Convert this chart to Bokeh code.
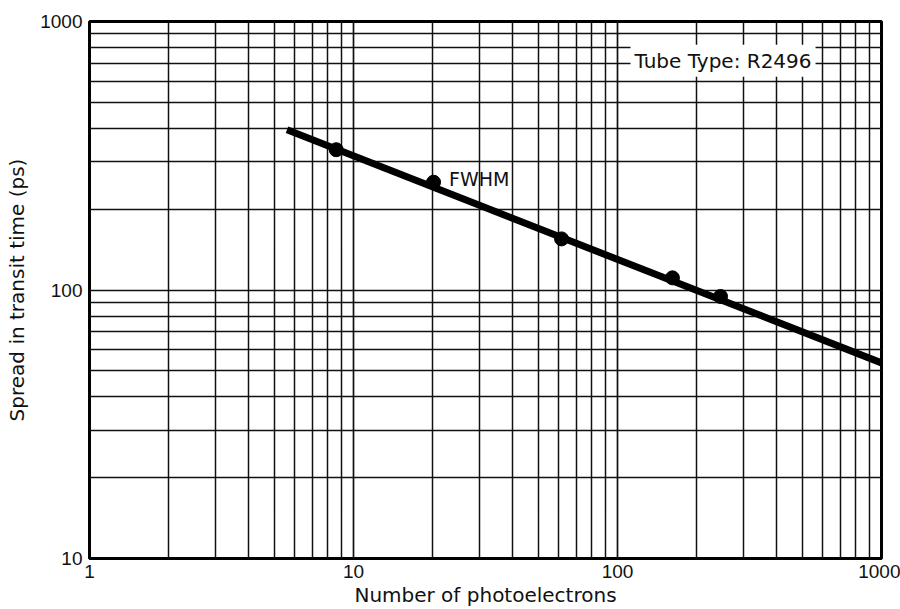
from bokeh.plotting import figure
from bokeh.models import FixedTicker, NumeralTickFormatter, Label
from bokeh.embed import file_html
from bokeh.resources import INLINE

# Data
photoelectrons = [8.6, 20.1, 61.4, 161.5, 245.6]
fwhm_ps = [333, 252, 155, 111, 94.6]
fit_x = [5.6, 1000]
fit_y = [395, 53.5]

x_major = [1, 10, 100, 1000]
y_major = [10, 100, 1000]
x_minor = [m * d for d in (1, 10, 100) for m in range(2, 10)]
y_minor = [m * d for d in (10, 100) for m in range(2, 10)]

p = figure(width=900, height=609, x_axis_type="log", y_axis_type="log",
           x_range=(1, 1000), y_range=(10, 1000),
           output_backend="svg", toolbar_location=None,
           min_border_left=89, min_border_right=19, min_border_top=21, min_border_bottom=47)

p.xaxis.ticker = FixedTicker(ticks=x_major, minor_ticks=x_minor)
p.yaxis.ticker = FixedTicker(ticks=y_major, minor_ticks=y_minor)
p.xaxis.formatter = NumeralTickFormatter(format="0")
p.yaxis.formatter = NumeralTickFormatter(format="0")

for ax in (p.xaxis, p.yaxis):
    ax.axis_line_color = None
    ax.major_tick_line_color = None
    ax.minor_tick_line_color = None
    ax.major_label_text_font = "Liberation Sans"
    ax.major_label_text_font_size = "19px"
    ax.major_label_text_color = "#111111"
    ax.axis_label_text_font = "DejaVu Sans"
    ax.axis_label_text_font_size = "20px"
    ax.axis_label_text_font_style = "normal"
    ax.axis_label_text_color = "#111111"

p.xaxis.axis_label = "Number of photoelectrons"
p.yaxis.axis_label = "Spread in transit time (ps)"
p.xaxis.major_label_standoff = 0
p.xaxis.axis_label_standoff = 2
p.yaxis.major_label_standoff = 1
p.yaxis.axis_label_standoff = 8

for g in (p.xgrid, p.ygrid):
    g.grid_line_color = "#111111"
    g.grid_line_width = 1.7
    g.grid_line_alpha = 1.0
    g.minor_grid_line_color = "#111111"
    g.minor_grid_line_width = 1.5

p.outline_line_color = "black"
p.outline_line_width = 3
p.background_fill_color = "white"

p.line(fit_x, fit_y, line_width=7, color="black")
p.scatter(photoelectrons, fwhm_ps, size=14, color="black")

p.add_layout(Label(x=23, y=260, text="FWHM", text_font="DejaVu Sans",
                   text_font_size="19px", text_baseline="middle", text_color="#111111"))
p.add_layout(Label(x=112, y=714, text="Tube Type: R2496", text_font="DejaVu Sans",
                   text_font_size="20px", text_baseline="middle", text_color="#111111",
                   background_fill_color="white", padding=4))

open("out.html", "w").write(file_html(p, INLINE))
